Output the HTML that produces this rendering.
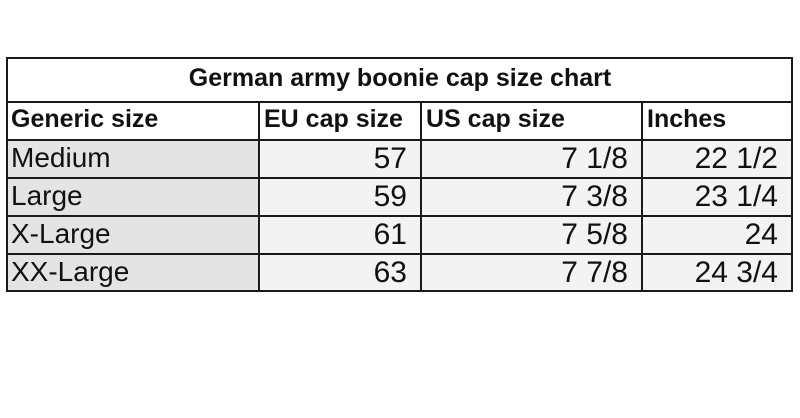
<!DOCTYPE html>
<html><head><style>
body{margin:0;width:800px;height:418px;background:#fff;position:relative;overflow:hidden;font-family:"Liberation Sans",sans-serif;color:#111}
.h{position:absolute;background:#1a1a1a;height:2px}
.v{position:absolute;background:#1a1a1a;width:2px}
.t{position:absolute;white-space:nowrap;line-height:1}
.c{position:absolute}
.n{font-size:30px}
.l{font-size:28px}
</style></head><body>
<div class="c" style="left:8px;top:141px;width:251px;height:150px;background:#e4e4e4"></div>
<div class="c" style="left:261px;top:141px;width:530px;height:150px;background:#f3f3f3"></div>
<div class="h" style="left:6px;top:57px;width:787px"></div>
<div class="h" style="left:6px;top:101px;width:787px"></div>
<div class="h" style="left:6px;top:139px;width:787px"></div>
<div class="h" style="left:6px;top:177px;width:787px"></div>
<div class="h" style="left:6px;top:215px;width:787px"></div>
<div class="h" style="left:6px;top:253px;width:787px"></div>
<div class="h" style="left:6px;top:290px;width:787px"></div>
<div class="v" style="left:6px;top:57px;height:235px"></div>
<div class="v" style="left:791px;top:57px;height:235px"></div>
<div class="v" style="left:258px;top:101px;height:191px"></div>
<div class="v" style="left:420px;top:101px;height:191px"></div>
<div class="v" style="left:641px;top:101px;height:191px"></div>
<div class="t" style="left:0;width:800px;text-align:center;top:66px;font-weight:bold;font-size:25px">German army boonie cap size chart</div>
<div class="t" style="left:11px;top:107px;font-weight:bold;font-size:25px">Generic size</div>
<div class="t" style="left:264px;top:107px;font-weight:bold;font-size:25px">EU cap size</div>
<div class="t" style="left:426px;top:107px;font-weight:bold;font-size:25px">US cap size</div>
<div class="t" style="left:647px;top:107px;font-weight:bold;font-size:25px">Inches</div>
<div class="t l" style="left:11px;top:144px">Medium</div>
<div class="t l" style="left:11px;top:182px">Large</div>
<div class="t l" style="left:11px;top:220px">X-Large</div>
<div class="t l" style="left:11px;top:258px">XX-Large</div>
<div class="t n" style="right:393px;top:144px">57</div>
<div class="t n" style="right:393px;top:182px">59</div>
<div class="t n" style="right:393px;top:220px">61</div>
<div class="t n" style="right:393px;top:258px">63</div>
<div class="t n" style="right:172px;top:144px">7 1/8</div>
<div class="t n" style="right:172px;top:182px">7 3/8</div>
<div class="t n" style="right:172px;top:220px">7 5/8</div>
<div class="t n" style="right:172px;top:258px">7 7/8</div>
<div class="t n" style="right:22px;top:144px">22 1/2</div>
<div class="t n" style="right:22px;top:182px">23 1/4</div>
<div class="t n" style="right:22px;top:220px">24</div>
<div class="t n" style="right:22px;top:258px">24 3/4</div>
</body></html>
